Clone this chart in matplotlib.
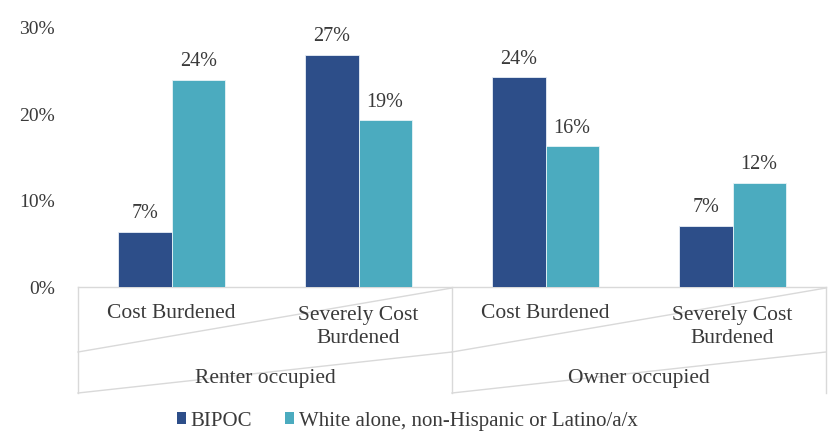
import matplotlib
matplotlib.use("Agg")
import matplotlib.pyplot as plt
from matplotlib.patches import Patch
from matplotlib.lines import Line2D
import numpy as np

# ---- data ----
categories = ["Cost Burdened", "Severely Cost\nBurdened", "Cost Burdened", "Severely Cost\nBurdened"]
groups = ["Renter occupied", "Owner occupied"]
series_names = ["BIPOC", "White alone, non-Hispanic or Latino/a/x"]
bipoc = [6.4, 26.9, 24.3, 7.1]
white = [24.0, 19.3, 16.3, 12.1]
bipoc_labels = ["7%", "27%", "24%", "7%"]
white_labels = ["24%", "19%", "16%", "12%"]
yticks = [0, 10, 20, 30]
ytick_labels = ["0%", "10%", "20%", "30%"]

# ---- style ----
plt.rcParams['font.family'] = ['Liberation Serif', 'DejaVu Serif']
TXT = '#3A3A3A'
C_BIPOC = '#2D4E89'
C_WHITE = '#4BABBF'
GRID = '#D9D9D9'

W, H = 836, 444
fig = plt.figure(figsize=(W / 100, H / 100), dpi=100)
ax_left, ax_right, ax_top, ax_bot = 78, 826, 28, 287
ax = fig.add_axes([ax_left / W, 1 - ax_bot / H, (ax_right - ax_left) / W, (ax_bot - ax_top) / H])

x = np.arange(len(categories))
bw = 0.285
b1 = ax.bar(x - bw / 2, bipoc, bw, color=C_BIPOC, edgecolor='#E8EEF6', linewidth=0.6, zorder=3)
b2 = ax.bar(x + bw / 2, white, bw, color=C_WHITE, edgecolor='#E8F4F7', linewidth=0.6, zorder=3)

for bars, labs in ((b1, bipoc_labels), (b2, white_labels)):
    for r, lab in zip(bars, labs):
        ax.annotate(lab, (r.get_x() + r.get_width() / 2, r.get_height()),
                    xytext=(0, 6), textcoords='offset points', ha='center', va='bottom',
                    fontsize=14.5, color=TXT)

ax.set_xlim(-0.5, len(categories) - 0.5)
ax.set_ylim(0, 30)
ax.set_yticks(yticks)
ax.set_yticklabels(ytick_labels, fontsize=14, color=TXT)
ax.tick_params(axis='y', length=0, pad=16.5)
ax.set_xticks([])
for s in ['top', 'right', 'left']:
    ax.spines[s].set_visible(False)
ax.spines['bottom'].set_color(GRID)
ax.spines['bottom'].set_linewidth(1.0)

# ---- multi-level category box (pixel-based y in axes fraction) ----
def yf(py):
    return (ax_bot - py) / (ax_bot - ax_top)

trans = ax.get_xaxis_transform()
lkw = dict(color=GRID, linewidth=1.0, transform=trans, clip_on=False)
for xb in [-0.5, 1.5, 3.5]:
    ax.add_line(Line2D([xb, xb], [yf(287), yf(393)], **lkw))
for g in range(len(groups)):
    x0, x1 = -0.5 + 2 * g, 1.5 + 2 * g
    ax.add_line(Line2D([x0, x1], [yf(352), yf(288)], **lkw))
    ax.add_line(Line2D([x0, x1], [yf(393), yf(352)], **lkw))

for i, c in enumerate(categories):
    yy = yf(313) if "\n" not in c else yf(327)
    ax.text(i, yy, c, transform=trans, ha='center', va='center', fontsize=15.5,
            color=TXT, linespacing=1.35)
for g, name in enumerate(groups):
    ax.text(0.5 + 2 * g, yf(378), name, transform=trans, ha='center', va='center',
            fontsize=15.5, color=TXT)

# ---- legend ----
handles = [Patch(facecolor=C_BIPOC, edgecolor='none'), Patch(facecolor=C_WHITE, edgecolor='none')]
leg = fig.legend(handles, series_names, loc='center', bbox_to_anchor=(407 / W, 1 - 421 / H),
                 ncol=2, frameon=False, fontsize=15, handlelength=0.45, handleheight=0.45,
                 handletextpad=0.2, columnspacing=1.6, borderaxespad=0)
for t in leg.get_texts():
    t.set_color(TXT)

fig.savefig("out.png", dpi=100)
